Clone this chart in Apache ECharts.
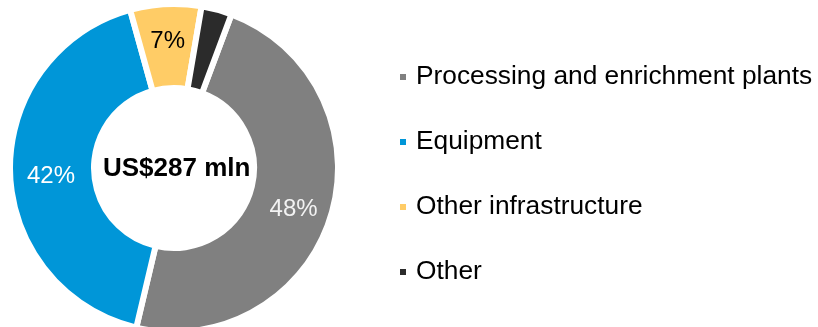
<!DOCTYPE html>
<html>
<head>
<meta charset="utf-8">
<script src="https://cdn.jsdelivr.net/npm/echarts@6/dist/echarts.min.js"></script>
<style>
  html, body { margin: 0; padding: 0; background: #ffffff; }
  #chart { width: 818px; height: 327px; }
</style>
</head>
<body>
<div id="chart"></div>
<script>
// Capital expenditure breakdown (share of total, %)
const categories = ['Processing and enrichment plants', 'Equipment', 'Other infrastructure', 'Other'];
const shares = [48, 42, 7, 3];
const sliceColors = ['#808080', '#0096D8', '#FFCC66', '#2B2B2B'];
const labelColors = ['#F2F2F2', '#FFFFFF', '#000000', '#FFFFFF'];
const showLabel = [true, true, true, false];
const totalText = 'US$287 mln';

const FONT = '"Liberation Sans", Arial, sans-serif';

// small nudges so the percentage labels sit where they read best in each ring segment
const labelNudge = [[0, 5], [2, 6], [0, -2], [0, 0]];

const chart = echarts.init(document.getElementById('chart'), null, { renderer: 'canvas' });

chart.setOption({
  animation: false,
  color: sliceColors,
  legend: {
    orient: 'vertical',
    left: 398,
    top: 64,
    padding: 0,
    itemWidth: 8,
    itemHeight: 8,
    itemGap: 39,
    icon: 'rect',
    selectedMode: false,
    textStyle: {
      fontFamily: FONT,
      fontSize: 26.3,
      color: '#000000',
      padding: [0, 0, 0, 4]
    },
    data: categories
  },
  graphic: [{
    type: 'text',
    left: 103,
    top: 156,
    style: {
      text: totalText,
      font: 'bold 26px ' + FONT,
      fill: '#000000'
    }
  }],
  series: [{
    type: 'pie',
    center: [174, 168],
    radius: [80, 164],
    startAngle: 69.5,
    clockwise: true,
    avoidLabelOverlap: false,
    itemStyle: {
      borderColor: '#ffffff',
      borderWidth: 6
    },
    label: {
      position: 'inside',
      fontFamily: FONT,
      fontSize: 24,
      formatter: '{c}%'
    },
    labelLine: { show: false },
    emphasis: { disabled: true },
    data: categories.map((name, i) => ({
      name: name,
      value: shares[i],
      itemStyle: { color: sliceColors[i] },
      label: { show: showLabel[i], color: labelColors[i], offset: labelNudge[i] }
    }))
  }]
});
</script>
</body>
</html>
